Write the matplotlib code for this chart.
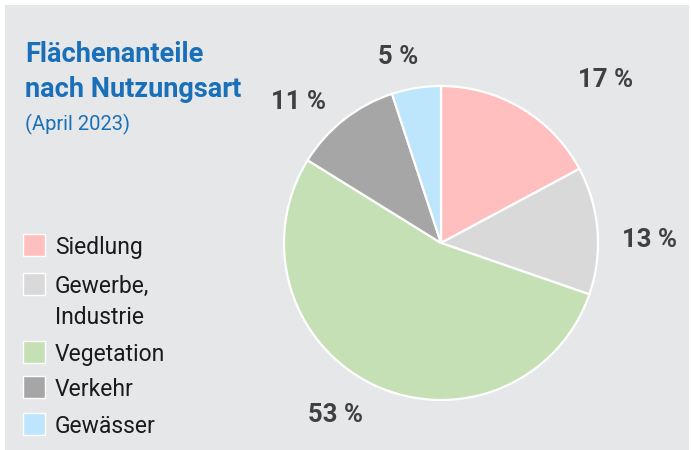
import matplotlib.pyplot as plt
from matplotlib.patches import Rectangle

# Data
categories = ["Siedlung", "Gewerbe,\nIndustrie", "Vegetation", "Verkehr", "Gewässer"]
shares = [17, 13, 53, 11, 5]
colors = ["#ffbfbf", "#d9d9d9", "#c5e0b4", "#a6a6a6", "#bde5fb"]
# label anchor points (pie radius = 1)
label_pos = [(1.045, 1.04), (1.33, 0.02), (-0.675, -1.095), (-0.91, 0.90), (-0.27, 1.185)]

W, H = 691, 450
fig = plt.figure(figsize=(W / 100, H / 100), dpi=100, facecolor="white")

# grey card
fig.patches.append(Rectangle((5 / W, 0), (W - 7) / W, (H - 5) / H,
                             transform=fig.transFigure, facecolor="#e6e7e9",
                             edgecolor="none", zorder=-1))

# pie
cx, cy, r = 441, 243, 157
ax = fig.add_axes([(cx - r) / W, (H - cy - r) / H, 2 * r / W, 2 * r / H])
ax.set_facecolor("none")
wedges, _ = ax.pie(shares, colors=colors, startangle=90, counterclock=False,
                   radius=1, wedgeprops=dict(edgecolor="white", linewidth=1.6))
ax.set_xlim(-1, 1)
ax.set_ylim(-1, 1)
ax.set_aspect("auto")
ax.axis("off")

for v, (lx, ly) in zip(shares, label_pos):
    ax.text(lx, ly, f"{v} %", ha="center", va="center", fontsize=18.5,
            fontweight="bold", color="#404040", family="Roboto")

# title
fig.text(25 / W, 1 - 62 / H, "Flächenanteile", fontsize=19.5, fontweight="bold",
         color="#1a70b8", family="Roboto", va="baseline")
fig.text(25 / W, 1 - 97 / H, "nach Nutzungsart", fontsize=19.5, fontweight="bold",
         color="#1a70b8", family="Roboto", va="baseline")
fig.text(25 / W, 1 - 130 / H, "(April 2023)", fontsize=14.5, color="#1a70b8",
         family="Roboto", va="baseline")

# legend
row_y = [245, 284, 352, 387, 424]
sq = 22
for name, col, yc in zip(categories, colors, row_y):
    fig.patches.append(Rectangle((23 / W, 1 - (yc + sq / 2) / H), sq / W, sq / H,
                                 transform=fig.transFigure, facecolor=col,
                                 edgecolor="white", linewidth=1, zorder=2))
    lines = name.split("\n")
    for i, line in enumerate(lines):
        fig.text(55 / W, 1 - (yc + 9 + i * 31) / H, line, fontsize=16.5,
                 color="#1a1a1a", family="Roboto", va="baseline")

fig.savefig("out.png", dpi=100, facecolor=fig.get_facecolor())
